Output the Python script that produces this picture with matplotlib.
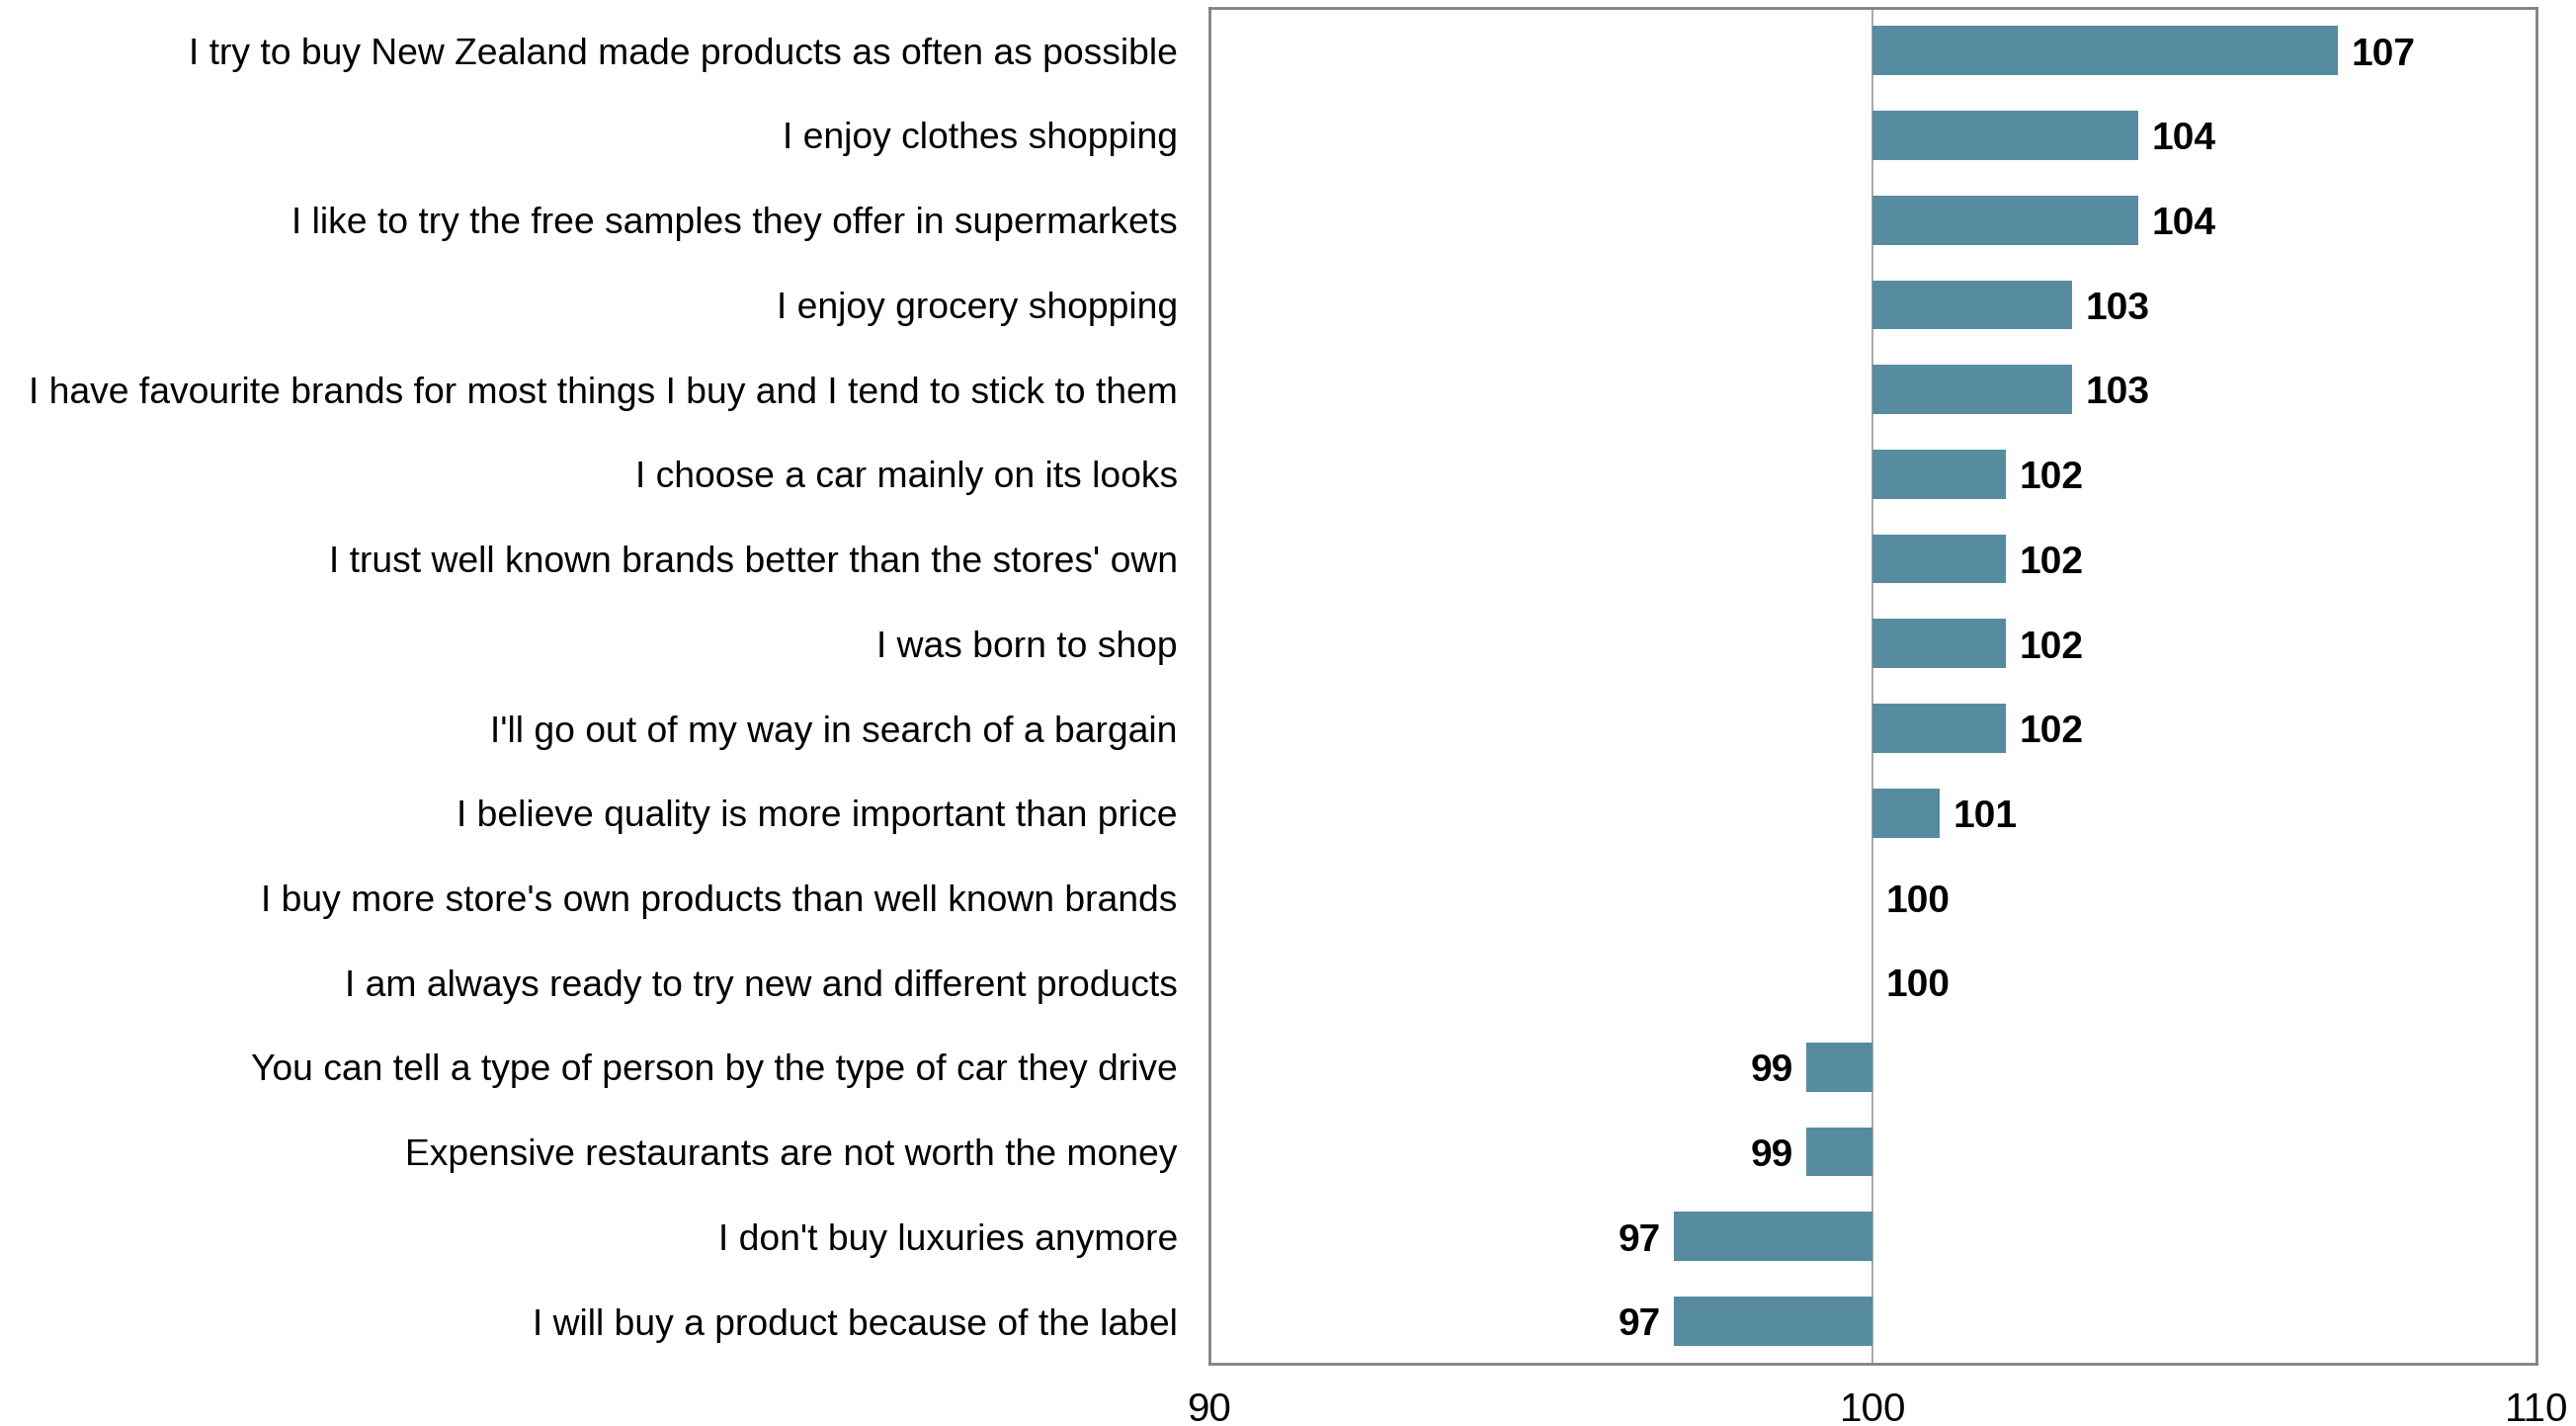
import matplotlib.pyplot as plt

plt.rcParams['font.family'] = ['Liberation Sans', 'DejaVu Sans']

statements = [
    "I try to buy New Zealand made products as often as possible",
    "I enjoy clothes shopping",
    "I like to try the free samples they offer in supermarkets",
    "I enjoy grocery shopping",
    "I have favourite brands for most things I buy and I tend to stick to them",
    "I choose a car mainly on its looks",
    "I trust well known brands better than the stores' own",
    "I was born to shop",
    "I'll go out of my way in search of a bargain",
    "I believe quality is more important than price",
    "I buy more store's own products than well known brands",
    "I am always ready to try new and different products",
    "You can tell a type of person by the type of car they drive",
    "Expensive restaurants are not worth the money",
    "I don't buy luxuries anymore",
    "I will buy a product because of the label",
]
index_values = [107, 104, 104, 103, 103, 102, 102, 102, 102, 101, 100, 100, 99, 99, 97, 97]
x_ticks = [90, 100, 110]
baseline = 100

fig = plt.figure(figsize=(26.07, 14.43), dpi=100)
ax = fig.add_axes([0.4694, 0.0437, 0.5153, 0.9505])

ypos = list(range(len(statements)))
widths = [v - baseline for v in index_values]
ax.barh(ypos, widths, left=baseline, height=0.58, color='#578BA0', zorder=2)
ax.axvline(baseline, color='#999999', linewidth=1.2, zorder=1)

for y, v in zip(ypos, index_values):
    if v >= baseline:
        ax.text(v + 0.2, y + 0.05, str(v), ha='left', va='center',
                fontsize=28, fontweight='bold')
    else:
        ax.text(v - 0.2, y + 0.05, str(v), ha='right', va='center',
                fontsize=28, fontweight='bold')

ax.set_xlim(90, 110)
ax.set_ylim(len(statements) - 0.5, -0.5)
ax.set_xticks(x_ticks)
ax.set_xticklabels([str(t) for t in x_ticks], fontsize=29)
ax.set_yticks(ypos)
ax.set_yticklabels(statements, fontsize=26.8)
ax.tick_params(axis='both', length=0)
ax.tick_params(axis='y', pad=23)
ax.tick_params(axis='x', pad=20)

for s in ax.spines.values():
    s.set_color('#808080')
    s.set_linewidth(2)

fig.savefig('out.png', dpi=100)
